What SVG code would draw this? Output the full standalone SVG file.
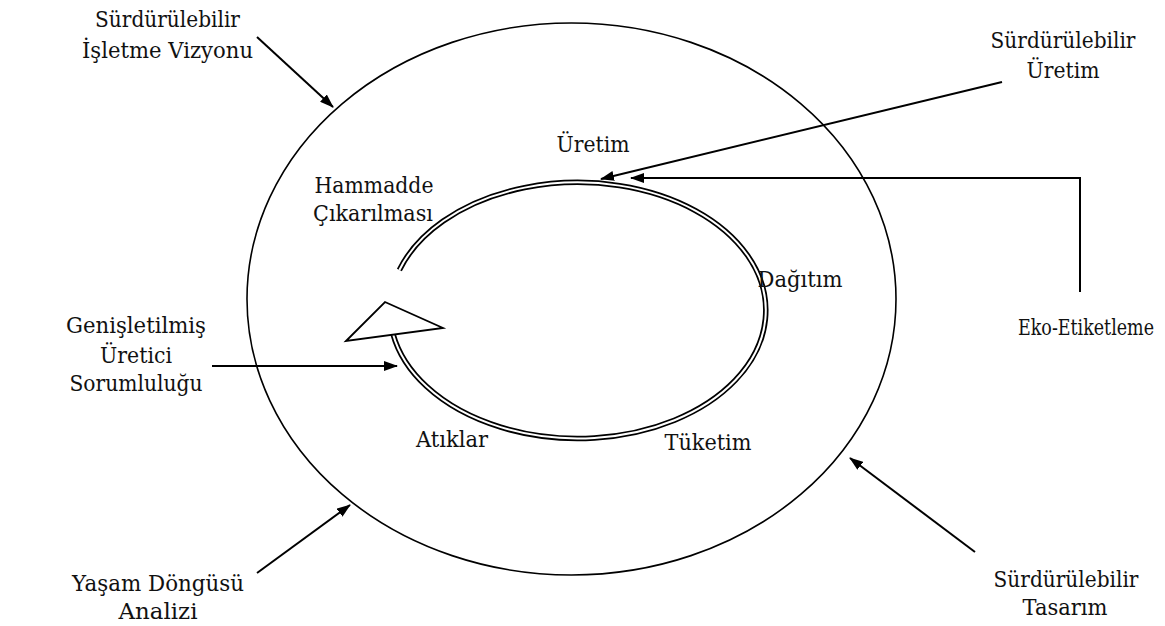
<svg xmlns="http://www.w3.org/2000/svg" width="1165" height="626" viewBox="0 0 1165 626">
<style>
.t text{font-size:22.5px;fill:#111;text-anchor:middle}
.ln{fill:none;stroke:#000;stroke-width:1.6}
.arr{fill:none;stroke:#000;stroke-width:2;marker-end:url(#ah)}
</style>
<defs>
<marker id="ah" viewBox="0 0 14 10" refX="13" refY="5" markerWidth="14" markerHeight="10" markerUnits="userSpaceOnUse" orient="auto">
<path d="M0,0 L14,5 L0,10 Z" fill="#000"/>
</marker>
</defs>
<rect width="1165" height="626" fill="#fff"/>
<g id="outer-circle">
<ellipse class="ln" cx="571.5" cy="299" rx="324.5" ry="276"/>
</g>
<g id="cycle">
<path d="M399.4 270 A188 128 0 1 1 393 334" fill="none" stroke="#000" stroke-width="5.5"/>
<path d="M399.4 270 A188 128 0 1 1 393 334" fill="none" stroke="#fff" stroke-width="2"/>
<polygon points="346,341 385,302 443,328" fill="#fff" stroke="#000" stroke-width="1.8" stroke-linejoin="miter"/>
</g>
<g id="connectors">
<line class="arr" x1="257" y1="37" x2="333" y2="107"/>
<line class="arr" x1="1002" y1="82" x2="601" y2="179"/>
<polyline class="arr" points="1080,292 1080,178 631,178"/>
<line class="arr" x1="212" y1="366" x2="397" y2="366"/>
<line class="arr" x1="257" y1="573" x2="350" y2="505"/>
<line class="arr" x1="975" y1="552" x2="850" y2="458"/>
</g>
<g class="t" font-family="DejaVu Serif, Liberation Serif, serif">
<g id="n-isletme"><text x="167.5" y="27" textLength="145" lengthAdjust="spacingAndGlyphs">Sürdürülebilir</text><text x="167.5" y="58" textLength="171" lengthAdjust="spacingAndGlyphs">İşletme Vizyonu</text></g>
<g id="n-uretim-s"><text x="1063" y="48" textLength="145" lengthAdjust="spacingAndGlyphs">Sürdürülebilir</text><text x="1063" y="78" textLength="73" lengthAdjust="spacingAndGlyphs">Üretim</text></g>
<g id="n-uretim"><text x="593" y="152" textLength="73" lengthAdjust="spacingAndGlyphs">Üretim</text></g>
<g id="n-hammadde"><text x="374" y="193" textLength="119" lengthAdjust="spacingAndGlyphs">Hammadde</text><text x="373" y="221" textLength="120" lengthAdjust="spacingAndGlyphs">Çıkarılması</text></g>
<g id="n-dagitim"><text x="800" y="287" textLength="85" lengthAdjust="spacingAndGlyphs">Dağıtım</text></g>
<g id="n-eko"><text x="1086" y="335" font-size="18" textLength="136" lengthAdjust="spacingAndGlyphs">Eko-Etiketleme</text></g>
<g id="n-genis"><text x="136" y="333" textLength="140" lengthAdjust="spacingAndGlyphs">Genişletilmiş</text><text x="136" y="363" textLength="72" lengthAdjust="spacingAndGlyphs">Üretici</text><text x="136" y="391" textLength="133" lengthAdjust="spacingAndGlyphs">Sorumluluğu</text></g>
<g id="n-atiklar"><text x="452" y="447" textLength="72" lengthAdjust="spacingAndGlyphs">Atıklar</text></g>
<g id="n-tuketim"><text x="708" y="450" textLength="87" lengthAdjust="spacingAndGlyphs">Tüketim</text></g>
<g id="n-yasam"><text x="158" y="591" textLength="172" lengthAdjust="spacingAndGlyphs">Yaşam Döngüsü</text><text x="158" y="619" textLength="79" lengthAdjust="spacingAndGlyphs">Analizi</text></g>
<g id="n-tasarim"><text x="1066" y="587" textLength="145" lengthAdjust="spacingAndGlyphs">Sürdürülebilir</text><text x="1065" y="615" textLength="85" lengthAdjust="spacingAndGlyphs">Tasarım</text></g>
</g>
</svg>
